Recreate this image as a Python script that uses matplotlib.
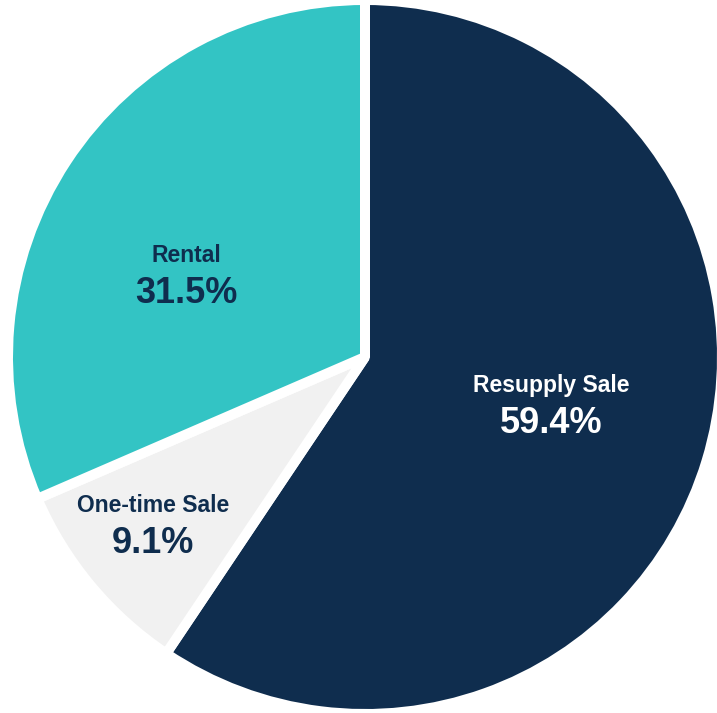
import matplotlib
matplotlib.use("Agg")
import matplotlib.pyplot as plt

# revenue mix by sale type
labels = ["Resupply Sale", "One-time Sale", "Rental"]
shares = [59.4, 9.1, 31.5]
colors = ["#0f2d4e", "#f1f1f1", "#33c4c4"]
text_colors = ["white", "#0f2d4e", "#0f2d4e"]

# where each caption sits (data units, pie radius = 1)
label_pos = [(0.521, -0.098), (-0.594, -0.434), (-0.499, 0.266)]

plt.rcParams['font.family'] = ['Liberation Sans', 'DejaVu Sans']

fig = plt.figure(figsize=(7.17, 7.13), dpi=100)
ax = fig.add_axes([0, 0, 1, 1])

ax.pie(shares, colors=colors, startangle=90, counterclock=False,
       radius=1, wedgeprops=dict(edgecolor='white', linewidth=7.2, joinstyle='bevel'))

for lab, val, tc, (x, y) in zip(labels, shares, text_colors, label_pos):
    ax.text(x, y, lab, ha='center', va='baseline', fontsize=16.5,
            fontweight='bold', color=tc)
    ax.annotate(f"{val:.1f}%", (x, y), xytext=(0, -29.5), textcoords='offset points',
                ha='center', va='baseline', fontsize=26, fontweight='bold', color=tc)

ax.set_xlim(-365 / 357, (717 - 365) / 357)
ax.set_ylim(-(713 - 357) / 357, 1.0)
ax.set_aspect('auto')
ax.axis('off')

fig.savefig("out.png", dpi=100)
